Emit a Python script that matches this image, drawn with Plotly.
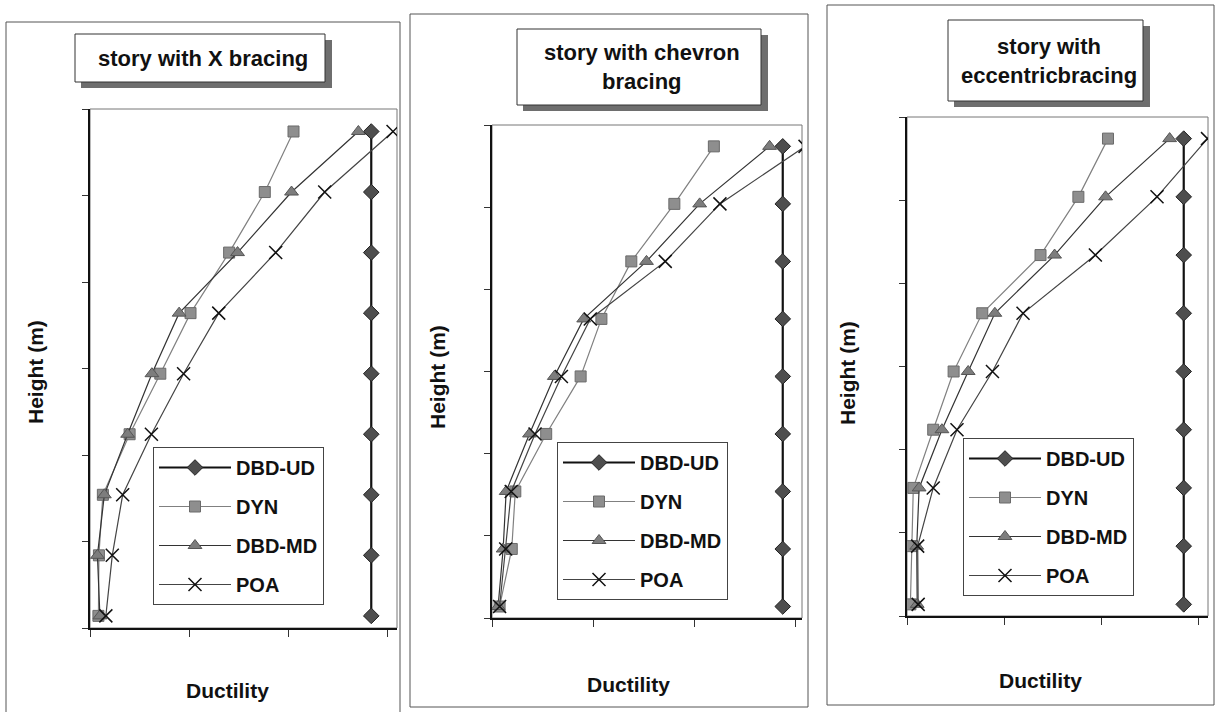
import plotly.graph_objects as go

W, H = 1216, 712

# ---------------- data ----------------
heights = [0.7, 4.2, 7.7, 11.2, 14.7, 18.2, 21.7, 25.2, 28.7]
series_names = ["DBD-UD", "DYN", "DBD-MD", "POA"]

# Panel 1: story with X bracing
x_dbd_ud = [5.68, 5.68, 5.68, 5.68, 5.68, 5.68, 5.68, 5.68, 5.68]
x_dyn = [0.17, 0.18, 0.26, 0.80, 1.42, 2.03, 2.81, 3.53, 4.11]
x_dbd_md = [0.20, 0.15, 0.29, 0.76, 1.25, 1.80, 2.98, 4.07, 5.42]
x_poa = [0.32, 0.45, 0.66, 1.24, 1.89, 2.60, 3.75, 4.74, 6.12]

# Panel 2: story with chevron bracing
ch_dbd_ud = [5.74, 5.74, 5.74, 5.74, 5.74, 5.74, 5.74, 5.74, 5.74]
ch_dyn = [0.15, 0.39, 0.46, 1.07, 1.75, 2.16, 2.75, 3.60, 4.38]
ch_dbd_md = [0.12, 0.22, 0.28, 0.74, 1.23, 1.81, 3.05, 4.10, 5.48]
ch_poa = [0.15, 0.27, 0.38, 0.85, 1.37, 1.94, 3.42, 4.50, 6.18]

# Panel 3: story with eccentric bracing
ec_dbd_ud = [5.70, 5.70, 5.70, 5.70, 5.70, 5.70, 5.70, 5.70, 5.70]
ec_dyn = [0.07, 0.10, 0.13, 0.54, 0.96, 1.55, 2.75, 3.53, 4.14]
ec_dbd_md = [0.21, 0.20, 0.25, 0.72, 1.26, 1.81, 3.04, 4.09, 5.41]
ec_poa = [0.23, 0.22, 0.54, 1.03, 1.76, 2.39, 3.88, 5.15, 6.19]

panel_titles = ["story with X bracing", "story with chevron<br>bracing", "story with<br>eccentricbracing"]
x_title = "Ductility"
y_title = "Height (m)"

panels = [
    [x_dbd_ud, x_dyn, x_dbd_md, x_poa],
    [ch_dbd_ud, ch_dyn, ch_dbd_md, ch_poa],
    [ec_dbd_ud, ec_dyn, ec_dbd_md, ec_poa],
]

# ---------------- styles / layout geometry (pixels) ----------------
plot_boxes = [(90, 397, 109, 628), (492, 802, 125, 618), (907, 1208, 117, 616)]
x_ranges = [[0, 6.2], [0, 6.12], [0, 6.2]]
frames = [(6, 400, 22, 716), (410, 808, 14, 707), (827, 1214, 5, 705)]
title_boxes = [(75, 325, 34, 82), (517, 761, 29, 105), (948, 1143, 20, 101)]
legend_pos = [(153, 447), (557, 442), (963, 438)]
ytitle_pos = [(35, 372), (437, 377), (847, 373)]
xtitle_pos = [(227, 690), (628, 684), (1040, 680)]

FONT = "Liberation Sans, Arial, sans-serif"

styles = [
    dict(line=dict(color="#111111", width=2.2),
         marker=dict(symbol="diamond", size=12, color="#4e4e4e", line=dict(color="#222", width=1))),
    dict(line=dict(color="#808080", width=1.2),
         marker=dict(symbol="square", size=11, color="#8e8e8e", line=dict(color="#6a6a6a", width=1))),
    dict(line=dict(color="#333333", width=1.2),
         marker=dict(symbol="triangle-up", size=12, color="#7d7d7d", line=dict(color="#555", width=1))),
    dict(line=dict(color="#444444", width=1.2),
         marker=dict(symbol="x-thin", size=13, color="#111", line=dict(color="#111", width=1.5))),
]

fig = go.Figure()
shapes = []
annotations = []

for i, data in enumerate(panels):
    k = "" if i == 0 else str(i + 1)
    legend_id = "legend" + k
    for j, xs in enumerate(data):
        fig.add_trace(go.Scatter(
            x=xs, y=heights, mode="lines+markers", name=series_names[j],
            xaxis="x" + k, yaxis="y" + k, legend=legend_id,
            legendgroup=f"p{i}s{j}",
            line=styles[j]["line"], marker=styles[j]["marker"],
        ))
    x0, x1, y0, y1 = plot_boxes[i]
    fig.layout["xaxis" + k] = dict(
        domain=[x0 / W, x1 / W], range=x_ranges[i], anchor="y" + k,
        showgrid=False, zeroline=False, showline=True, linecolor="#111", linewidth=1.5,
        ticks="outside", ticklen=7, tickcolor="#333", tickwidth=1, dtick=2, tick0=0,
        showticklabels=False,
    )
    fig.layout["yaxis" + k] = dict(
        domain=[1 - y1 / H, 1 - y0 / H], range=[0, 30], anchor="x" + k,
        showgrid=False, zeroline=False, showline=True, linecolor="#111", linewidth=1.5,
        ticks="outside", ticklen=6, tickcolor="#333", tickwidth=1, dtick=5, tick0=0,
        showticklabels=False,
    )
    # plot-area box (top/right thin gray)
    shapes.append(dict(type="rect", xref=f"x{k} domain", yref=f"y{k} domain",
                       x0=0, x1=1, y0=0, y1=1, line=dict(color="#777", width=1), layer="below"))
    # panel frame
    fx0, fx1, fy0, fy1 = frames[i]
    shapes.append(dict(type="rect", xref="paper", yref="paper",
                       x0=fx0 / W, x1=fx1 / W, y0=1 - fy1 / H, y1=1 - fy0 / H,
                       line=dict(color="#555", width=1), layer="below"))
    # title box with shadow
    tx0, tx1, ty0, ty1 = title_boxes[i]
    shapes.append(dict(type="rect", xref="paper", yref="paper",
                       x0=(tx0 + 6) / W, x1=(tx1 + 7) / W, y0=1 - (ty1 + 6) / H, y1=1 - (ty0 + 6) / H,
                       line=dict(width=0), fillcolor="#6e6e6e", layer="below"))
    shapes.append(dict(type="rect", xref="paper", yref="paper",
                       x0=tx0 / W, x1=tx1 / W, y0=1 - ty1 / H, y1=1 - ty0 / H,
                       line=dict(color="#333", width=1), fillcolor="white", layer="below"))
    annotations.append(dict(text=panel_titles[i], xref="paper", yref="paper",
                            x=(tx0 + tx1) / 2 / W + 3 / W, y=1 - (ty0 + ty1) / 2 / H,
                            xanchor="center", yanchor="middle", showarrow=False,
                            font=dict(family=FONT, size=22, color="#111", weight="bold")))
    # axis titles
    ax, ay = ytitle_pos[i]
    annotations.append(dict(text=y_title, xref="paper", yref="paper", x=ax / W, y=1 - ay / H,
                            textangle=-90, showarrow=False, xanchor="center", yanchor="middle",
                            font=dict(family=FONT, size=21, color="#111", weight="bold")))
    bx, by = xtitle_pos[i]
    annotations.append(dict(text=x_title, xref="paper", yref="paper", x=bx / W, y=1 - by / H,
                            showarrow=False, xanchor="center", yanchor="middle",
                            font=dict(family=FONT, size=21, color="#111", weight="bold")))
    # legend
    lx, ly = legend_pos[i]
    fig.layout[legend_id] = dict(
        x=lx / W, y=1 - ly / H, xanchor="left", yanchor="top",
        bgcolor="white", bordercolor="#444", borderwidth=1,
        font=dict(family=FONT, size=20, color="#111", weight="bold"),
        tracegroupgap=10, itemwidth=72, traceorder="grouped",
    )

fig.update_layout(
    width=W, height=H, margin=dict(l=0, r=0, t=0, b=0),
    paper_bgcolor="white", plot_bgcolor="white",
    showlegend=True, shapes=shapes, annotations=annotations,
)

fig.write_html("out.html")
